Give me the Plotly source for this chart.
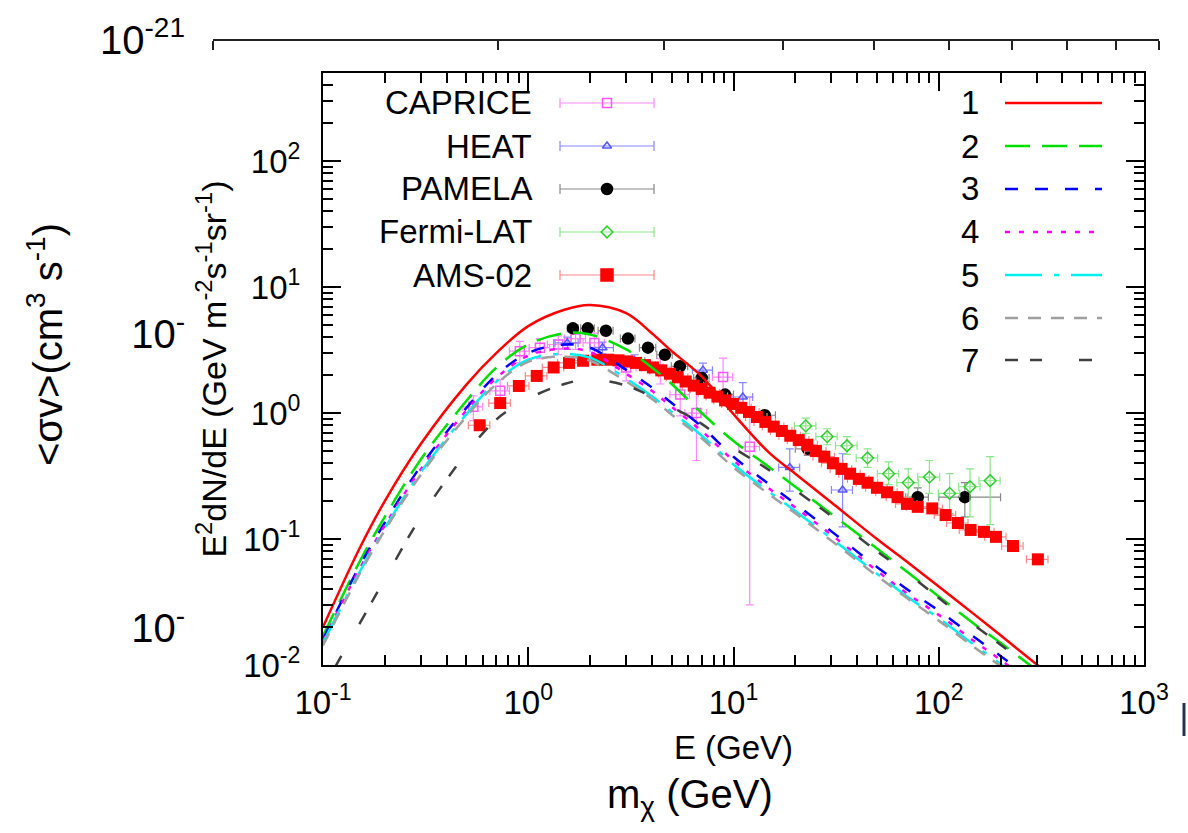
import plotly.graph_objects as go
import math

# ---------------- data ----------------
E_model = [0.1, 0.15, 0.2, 0.3, 0.5, 0.7, 1.0, 1.5, 2.0, 3.0, 4.0, 5.0, 7.0, 10, 15, 20, 30, 50, 70, 100, 150, 200, 300, 400]
model_1 = [0.020, 0.083, 0.20, 0.57, 1.68, 3.0, 4.9, 6.6, 7.2, 6.2, 4.3, 3.1, 1.95, 0.98, 0.48, 0.33, 0.195, 0.10, 0.066, 0.042, 0.025, 0.0172, 0.0101, 0.0069]
model_2 = [0.017, 0.065, 0.15, 0.43, 1.25, 2.3, 3.5, 4.3, 4.2, 3.2, 2.3, 1.7, 1.0, 0.60, 0.37, 0.26, 0.158, 0.084, 0.055, 0.035, 0.021, 0.015, 0.0091, 0.0065]
model_3 = [0.016, 0.060, 0.135, 0.38, 1.1, 2.0, 3.0, 3.5, 3.3, 2.2, 1.6, 1.2, 0.78, 0.45, 0.27, 0.19, 0.115, 0.060, 0.040, 0.027, 0.0165, 0.0118, 0.0072, 0.0052]
model_4 = [0.0155, 0.057, 0.128, 0.36, 1.05, 1.9, 2.85, 3.25, 3.05, 2.05, 1.5, 1.12, 0.72, 0.42, 0.25, 0.178, 0.108, 0.056, 0.037, 0.025, 0.0153, 0.011, 0.0067, 0.0048]
model_5 = [0.015, 0.054, 0.122, 0.34, 0.98, 1.78, 2.65, 2.95, 2.75, 1.88, 1.36, 1.02, 0.66, 0.39, 0.235, 0.167, 0.101, 0.053, 0.035, 0.0235, 0.0143, 0.0102, 0.0063, 0.0045]
model_6 = [0.0143, 0.052, 0.117, 0.325, 0.94, 1.7, 2.55, 2.8, 2.6, 1.78, 1.3, 0.97, 0.63, 0.37, 0.225, 0.16, 0.097, 0.051, 0.034, 0.0225, 0.0137, 0.0098, 0.006, 0.0043]
model_7 = [0.0065, 0.021, 0.048, 0.15, 0.48, 0.89, 1.3, 1.7, 1.85, 1.65, 1.35, 1.12, 0.82, 0.53, 0.35, 0.245, 0.152, 0.080, 0.054, 0.034, 0.0205, 0.0145, 0.0088, 0.0062]

caprice_E = [0.54, 0.73, 0.91, 1.14, 1.4, 1.7, 2.1, 3.0, 4.4, 5.5, 6.6, 8.9, 12.0]
caprice_v = [1.12, 1.5, 3.1, 3.3, 3.5, 3.9, 3.6, 2.3, 2.2, 1.4, 1.0, 1.93, 0.54]
caprice_up = [0.25, 0.35, 0.6, 0.6, 0.6, 0.7, 0.7, 0.5, 0.5, 0.5, 0.5, 0.8, 0.8]
caprice_dn = [0.25, 0.35, 0.6, 0.6, 0.6, 0.7, 0.7, 0.5, 0.5, 0.45, 0.58, 0.6, 0.51]
caprice_dE = [0.06, 0.08, 0.1, 0.13, 0.16, 0.2, 0.25, 0.35, 0.5, 0.6, 0.8, 1.0, 1.4]

heat_E = [1.55, 2.3, 3.3, 7.1, 11.1, 18.8, 34]
heat_v = [3.6, 3.3, 2.6, 2.19, 1.34, 0.37, 0.245]
heat_up = [0.4, 0.35, 0.3, 0.3, 0.4, 0.15, 0.23]
heat_dn = [0.4, 0.35, 0.3, 0.3, 0.3, 0.13, 0.12]
heat_dE = [0.2, 0.3, 0.4, 0.8, 1.3, 2.2, 4.0]

pamela_E = [1.65, 1.95, 2.39, 3.06, 3.83, 4.63, 5.48, 7.0, 9.1, 14.2, 23, 79, 134]
pamela_v = [4.7, 4.7, 4.5, 3.9, 3.3, 2.9, 2.35, 1.9, 1.4, 0.96, 0.52, 0.215, 0.215]
pamela_up = [0.25, 0.25, 0.25, 0.25, 0.2, 0.18, 0.15, 0.12, 0.1, 0.08, 0.06, 0.04, 0.065]
pamela_dn = [0.25, 0.25, 0.25, 0.25, 0.2, 0.18, 0.15, 0.12, 0.1, 0.08, 0.06, 0.04, 0.065]
pamela_dE_hi = [0.1, 0.15, 0.2, 0.25, 0.35, 0.4, 0.5, 0.6, 0.9, 1.8, 3.5, 10, 66]
pamela_dE_lo = [0.1, 0.15, 0.2, 0.25, 0.35, 0.4, 0.5, 0.6, 0.9, 1.6, 3.0, 10, 34]

fermi_E = [22.5, 28.6, 35.7, 45, 57, 71, 90, 113, 142, 178]
fermi_v = [0.79, 0.65, 0.55, 0.44, 0.33, 0.28, 0.31, 0.23, 0.26, 0.29]
fermi_up = [0.12, 0.10, 0.10, 0.08, 0.08, 0.08, 0.11, 0.10, 0.10, 0.16]
fermi_dn = [0.10, 0.09, 0.08, 0.07, 0.06, 0.07, 0.08, 0.07, 0.11, 0.16]
fermi_dE = [2.7, 3.4, 4.3, 5.4, 6.8, 8.5, 11, 13.5, 17, 21]

ams_E = [0.58, 0.73, 0.90, 1.10, 1.33, 1.58, 1.85, 2.17, 2.45, 2.75, 3.05, 3.35, 3.7, 4.05, 4.45,
         4.9, 5.35, 5.85, 6.4, 7.0, 7.65, 8.35, 9.1, 9.95, 10.9, 11.9, 13.0, 14.3, 15.7, 17.2,
         18.9, 20.8, 22.9, 25.2, 27.7, 30.5, 33.6, 37.0, 40.8, 45.0, 50.0, 56.0, 63.0, 70, 79,
         93, 108, 124, 143, 166, 190, 230, 304]
ams_v = [0.80, 1.2, 1.64, 1.97, 2.3, 2.5, 2.6, 2.65, 2.65, 2.62, 2.57, 2.5, 2.4, 2.3, 2.18,
         2.05, 1.92, 1.78, 1.65, 1.55, 1.45, 1.35, 1.26, 1.18, 1.1, 1.02, 0.93, 0.85, 0.78, 0.72,
         0.66, 0.61, 0.56, 0.50, 0.45, 0.40, 0.36, 0.33, 0.30, 0.28, 0.255, 0.235, 0.215, 0.19, 0.18,
         0.175, 0.155, 0.134, 0.118, 0.114, 0.104, 0.088, 0.069]

x_tick_vals = [0.1, 1, 10, 100, 1000]
x_tick_text = ["10<sup>-1</sup>", "10<sup>0</sup>", "10<sup>1</sup>", "10<sup>2</sup>", "10<sup>3</sup>"]
y_tick_vals = [0.01, 0.1, 1, 10, 100]
y_tick_text = ["10<sup>-2</sup>", "10<sup>-1</sup>", "10<sup>0</sup>", "10<sup>1</sup>", "10<sup>2</sup>"]
outer_y_vals = [1e-21, 1e-22, 1e-23]
outer_y_text = ["10<sup>-21</sup>", "10<sup>-</sup>", "10<sup>-</sup>"]
outer_x_vals = [10, 20, 30, 40, 50, 60, 70, 80, 90, 100]

data_names = ["CAPRICE", "HEAT", "PAMELA", "Fermi-LAT", "AMS-02"]
model_names = ["1", "2", "3", "4", "5", "6", "7"]

# ---------------- styles ----------------
W, H = 1188, 833
FONT = "Liberation Sans, Arial, Helvetica, sans-serif"
def fx(px): return px / W
def fy(py): return 1 - py / H

model_styles = [
    dict(color="#ff0000", dash="solid"),
    dict(color="#00e000", dash="25px,12px"),
    dict(color="#0000ff", dash="13px,17px"),
    dict(color="#ff00ff", dash="5px,9px"),
    dict(color="#00f0f0", dash="37px,12px,5px,12px"),
    dict(color="#a0a0a0", dash="13px,10px"),
    dict(color="#404040", dash="13px,12px,12px,37px"),
]
data_styles = [
    dict(symbol="square-open", color="#ff55ff", ecolor="#ff88ff", size=9),
    dict(symbol="triangle-up-open", color="#5555ff", ecolor="#8888ff", size=8),
    dict(symbol="circle", color="#000000", ecolor="#888888", size=11),
    dict(symbol="diamond-open", color="#33cc33", ecolor="#88e888", size=9),
    dict(symbol="square", color="#ff0000", ecolor="#ff8888", size=12),
]

fig = go.Figure()

# invisible anchor trace so that the background (outer) frame is drawn
fig.add_trace(go.Scatter(x=[20], y=[1e-22], mode="markers", marker=dict(opacity=0), showlegend=False,
                         hoverinfo="skip", xaxis="x2", yaxis="y2"))

def add_data(E, v, up, dn, dEhi, dElo, st, name):
    fig.add_trace(go.Scatter(
        x=E, y=v, mode="markers", name=name, showlegend=False,
        marker=dict(symbol=st["symbol"], color=st["color"], size=st["size"],
                    line=dict(color=st["color"], width=1.5)),
        error_y=dict(type="data", array=up, arrayminus=dn, color=st["ecolor"], thickness=1.2, width=4),
        error_x=dict(type="data", array=dEhi, arrayminus=dElo, color=st["ecolor"], thickness=1.2, width=4),
        xaxis="x", yaxis="y"))

add_data(caprice_E, caprice_v, caprice_up, caprice_dn, caprice_dE, caprice_dE, data_styles[0], data_names[0])
add_data(heat_E, heat_v, heat_up, heat_dn, heat_dE, heat_dE, data_styles[1], data_names[1])
add_data(pamela_E, pamela_v, pamela_up, pamela_dn, pamela_dE_hi, pamela_dE_lo, data_styles[2], data_names[2])
add_data(fermi_E, fermi_v, fermi_up, fermi_dn, fermi_dE, fermi_dE, data_styles[3], data_names[3])
fig.add_trace(go.Scatter(
    x=ams_E, y=ams_v, mode="markers", name=data_names[4], showlegend=False,
    marker=dict(symbol="square", color="#ff0000", size=12, line=dict(width=0)),
    error_y=dict(type="percent", value=8, color="#ff8888", thickness=1.2, width=4),
    error_x=dict(type="percent", value=12, color="#ff8888", thickness=1.2, width=4),
    xaxis="x", yaxis="y"))

models = [model_1, model_2, model_3, model_4, model_5, model_6, model_7]
for name, vals, st in zip(model_names, models, model_styles):
    fig.add_trace(go.Scatter(
        x=E_model, y=vals, mode="lines", name=name, showlegend=False,
        line=dict(color=st["color"], dash=st["dash"], width=2.5, shape="spline", smoothing=1.0),
        xaxis="x", yaxis="y"))

# ---------------- key (gnuplot style: text left of sample) ----------------
key_rows = [103, 146, 189, 232, 275, 318, 360]
left_text_x, left_sample_x, left_half = 534, 607, 47
right_text_x, right_line_x0, right_line_x1 = 981, 1005, 1102
KEY_FONT = 33

annotations = []
for i, (name, st) in enumerate(zip(data_names, data_styles)):
    fig.add_trace(go.Scatter(
        x=[left_sample_x], y=[key_rows[i]], mode="markers", showlegend=False, hoverinfo="skip",
        marker=dict(symbol=st["symbol"], color=st["color"], size=st["size"],
                    line=dict(color=st["color"], width=1.5)),
        error_x=dict(type="constant", value=left_half, color=st["ecolor"], thickness=1.2, width=5),
        xaxis="x3", yaxis="y3"))
    annotations.append(dict(text=name, x=fx(left_text_x), y=fy(key_rows[i]), xref="paper", yref="paper",
                            xanchor="right", yanchor="middle", showarrow=False,
                            font=dict(family=FONT, size=KEY_FONT, color="black")))
for i, (name, st) in enumerate(zip(model_names, model_styles)):
    fig.add_trace(go.Scatter(
        x=[right_line_x0, right_line_x1], y=[key_rows[i], key_rows[i]], mode="lines", showlegend=False,
        hoverinfo="skip", line=dict(color=st["color"], dash=st["dash"], width=2.5),
        xaxis="x3", yaxis="y3"))
    annotations.append(dict(text=name, x=fx(right_text_x), y=fy(key_rows[i]), xref="paper", yref="paper",
                            xanchor="right", yanchor="middle", showarrow=False,
                            font=dict(family=FONT, size=KEY_FONT, color="black")))

# outer figure titles
annotations.append(dict(text="<σv>(cm<sup>3</sup> s<sup>-1</sup>)", x=fx(45), y=fy(345), xref="paper", yref="paper",
                        textangle=-90, showarrow=False, xanchor="center", yanchor="middle",
                        font=dict(family=FONT, size=40, color="black")))
annotations.append(dict(text="m<sub>χ</sub> (GeV)", x=fx(690), y=fy(797), xref="paper", yref="paper",
                        showarrow=False, xanchor="center", yanchor="middle",
                        font=dict(family=FONT, size=40, color="black")))

minor_x = [m * 10 ** k for k in range(-1, 3) for m in range(2, 10)]
minor_y = [m * 10 ** k for k in range(-2, 3) for m in range(2, 10)]

axis_common = dict(type="log", showgrid=False, zeroline=False, showline=True, linecolor="black",
                   linewidth=2, mirror="ticks", ticks="inside", ticklen=18, tickwidth=1.5,
                   tickcolor="black", automargin=False,
                   tickfont=dict(family=FONT, size=33, color="black"))

fig.update_layout(
    width=W, height=H, margin=dict(l=0, r=0, t=0, b=0, autoexpand=False),
    paper_bgcolor="white", plot_bgcolor="rgba(0,0,0,0)",
    showlegend=False,
    xaxis=dict(**axis_common, domain=[fx(323), fx(1144)], range=[-1, 3], anchor="y",
               tickvals=x_tick_vals, ticktext=x_tick_text, ticklabelstandoff=7,
               minor=dict(tickvals=minor_x, ticks="inside", ticklen=10, tickwidth=1.5, tickcolor="black", showgrid=False),
               title=dict(text="E (GeV)", font=dict(family=FONT, size=33, color="black"), standoff=16)),
    yaxis=dict(**axis_common, domain=[fy(665), fy(73)], range=[-2, math.log10(500)], anchor="x",
               tickvals=y_tick_vals, ticktext=y_tick_text, ticklabelstandoff=14,
               minor=dict(tickvals=minor_y, ticks="inside", ticklen=10, tickwidth=1.5, tickcolor="black", showgrid=False),
               title=dict(text="E<sup>2</sup>dN/dE (GeV m<sup>-2</sup>s<sup>-1</sup>sr<sup>-1</sup>)",
                          font=dict(family=FONT, size=34, color="black"), standoff=6)),
    # background figure: its top frame line with downward ticks
    xaxis2=dict(type="log", domain=[fx(213), fx(1159)], range=[1, 2], anchor="free", position=fy(40),
                side="bottom", showline=True, linecolor="#222222", linewidth=1.5, ticks="outside", ticklen=9,
                tickwidth=1.5, tickcolor="#222222", tickmode="array", tickvals=outer_x_vals,
                showticklabels=False, showgrid=False, zeroline=False, automargin=False, fixedrange=True),
    yaxis2=dict(type="log", domain=[fy(790), fy(40)], range=[-23.55, -21], anchor="free", position=fx(213),
                showline=False, ticks="", tickvals=outer_y_vals, ticktext=outer_y_text,
                ticklabelstandoff=28, showgrid=False, zeroline=False, automargin=False, fixedrange=True,
                tickfont=dict(family=FONT, size=40, color="black")),
    xaxis3=dict(domain=[0, 1], range=[0, W], visible=False, fixedrange=True, automargin=False),
    yaxis3=dict(domain=[0, 1], range=[H, 0], visible=False, fixedrange=True, automargin=False),
    annotations=annotations,
    shapes=[dict(type="line", xref="paper", yref="paper", x0=fx(1184), x1=fx(1184), y0=fy(703), y1=fy(736),
                 line=dict(color="#223355", width=3))],
)

fig.write_html("out.html")
